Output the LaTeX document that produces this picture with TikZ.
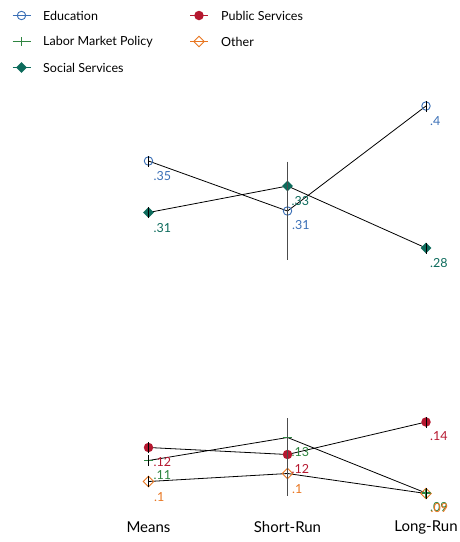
\documentclass[tikz,border=0pt]{standalone}
\usepackage{fontspec}
\setmainfont{Lato}
\usetikzlibrary{shapes.geometric}
\definecolor{cedu}{HTML}{3A6FB6}
\definecolor{clab}{HTML}{2E8540}
\definecolor{csoc}{HTML}{0D6B5C}
\definecolor{cpub}{HTML}{B5172F}
\definecolor{coth}{HTML}{E8751F}
\begin{document}
\begin{tikzpicture}[x=1pt,y=-1pt,
  conn/.style={black, line width=0.8pt},
  spike/.style={black, line width=0.8pt},
  longspike/.style={black!70, line width=0.9pt},
  edumk/.style={circle, draw=cedu, line width=0.9pt, minimum size=8.5pt, inner sep=0pt},
  socmk/.style={diamond, fill=csoc, minimum size=11pt, inner sep=0pt},
  pubmk/.style={circle, fill=cpub, minimum size=9.5pt, inner sep=0pt},
  othmk/.style={diamond, draw=coth, line width=0.9pt, minimum size=11pt, inner sep=0pt},
  labmk/.style={minimum size=9pt, inner sep=0pt,
    path picture={\draw[clab, line width=1.1pt]
      (path picture bounding box.west) -- (path picture bounding box.east)
      (path picture bounding box.north) -- (path picture bounding box.south);}},
  vlab/.style={anchor=west, inner sep=0pt, font=\fontsize{12.5}{14}\selectfont},
  legtxt/.style={anchor=west, inner sep=0pt, font=\fontsize{12.5}{14}\selectfont},
  axlab/.style={inner sep=0pt, font=\fontsize{15}{17}\selectfont},
]
\useasboundingbox (0,0) rectangle (460,542);

% ---------- legend ----------
\coordinate (lgA) at (21.5,15.5);
\coordinate (lgB) at (21.5,41.5);
\coordinate (lgC) at (21.5,67.5);
\coordinate (lgD) at (199,15.5);
\coordinate (lgE) at (199,41.5);
\draw[cedu, line width=0.9pt] ([xshift=-9pt]lgA) -- ([xshift=9pt]lgA);
\draw[clab, line width=0.9pt] ([xshift=-9pt]lgB) -- ([xshift=9pt]lgB);
\draw[csoc, line width=0.9pt] ([xshift=-9pt]lgC) -- ([xshift=9pt]lgC);
\draw[cpub, line width=0.9pt] ([xshift=-9pt]lgD) -- ([xshift=9pt]lgD);
\draw[coth, line width=0.9pt] ([xshift=-9pt]lgE) -- ([xshift=9pt]lgE);
\node[edumk] (lgAm) at (lgA) {};
\node[labmk] (lgBm) at (lgB) {};
\node[socmk] (lgCm) at (lgC) {};
\node[pubmk] (lgDm) at (lgD) {};
\node[othmk] (lgEm) at (lgE) {};
\node[legtxt] (ltA) at (43,15.5) {Education};
\node[legtxt] (ltB) at (43,41.5) {Labor Market Policy};
\node[legtxt] (ltC) at (43,67.5) {Social Services};
\node[legtxt] (ltD) at (221,15.5) {Public Services};
\node[legtxt] (ltE) at (221,41.5) {Other};

% ---------- points ----------
\coordinate (eduM) at (148.5,161);
\coordinate (eduS) at (287.5,211);
\coordinate (eduL) at (426,106);
\coordinate (socM) at (148.5,212.5);
\coordinate (socS) at (287.5,186);
\coordinate (socL) at (426,248);
\coordinate (pubM) at (148.5,447.5);
\coordinate (pubS) at (287.5,454.5);
\coordinate (pubL) at (426,422);
\coordinate (labM) at (148.5,460.5);
\coordinate (labS) at (287.5,437.5);
\coordinate (labL) at (426,493);
\coordinate (othM) at (148.5,481.5);
\coordinate (othS) at (287.5,473.5);
\coordinate (othL) at (426,493.5);

% ---------- connectors ----------
\draw[conn] (eduM) -- (eduS) -- (eduL);
\draw[conn] (socM) -- (socS) -- (socL);
\draw[conn] (pubM) -- (pubS) -- (pubL);
\draw[conn] (labM) -- (labS) -- (labL);
\draw[conn] (othM) -- (othS) -- (othL);

% ---------- markers ----------
\node[edumk] (eduMm) at (eduM) {};
\node[edumk] (eduSm) at (eduS) {};
\node[edumk] (eduLm) at (eduL) {};
\node[socmk] (socMm) at (socM) {};
\node[socmk] (socSm) at (socS) {};
\node[socmk] (socLm) at (socL) {};
\node[pubmk] (pubMm) at (pubM) {};
\node[pubmk] (pubSm) at (pubS) {};
\node[pubmk] (pubLm) at (pubL) {};
\node[othmk] (othMm) at (othM) {};
\node[othmk] (othSm) at (othS) {};
\node[othmk] (othLm) at (othL) {};
\node[labmk] (labMm) at (labM) {};
\node[labmk] (labSm) at (labS) {};
\node[labmk] (labLm) at (labL) {};

% ---------- spikes ----------
\foreach \p in {eduM,eduL,socM,socL,pubM,pubL,labM,labL,othM,othL}{
  \draw[spike] ([yshift=-5.5pt]\p) -- ([yshift=5.5pt]\p);
}
\coordinate (topA) at (287.5,161.5);
\coordinate (topB) at (287.5,260);
\coordinate (botA) at (287.5,418);
\coordinate (botB) at (287.5,496);
\draw[longspike] (topA) -- (topB);
\draw[longspike] (botA) -- (botB);

% ---------- value labels ----------
\node[vlab, text=cedu] (v1) at (153.5,176) {.35};
\node[vlab, text=csoc] (v2) at (153.5,228) {.31};
\node[vlab, text=csoc] (v3) at (291.5,201) {.33};
\node[vlab, text=cedu] (v4) at (292,225.5) {.31};
\node[vlab, text=cedu] (v5) at (430,121) {.4};
\node[vlab, text=csoc] (v6) at (430,263) {.28};
\node[vlab, text=cpub] (v7) at (153.5,462) {.12};
\node[vlab, text=clab] (v8) at (153.5,475.5) {.11};
\node[vlab, text=coth] (v9) at (154,497.5) {.1};
\node[vlab, text=clab] (v10) at (291.5,452.5) {.13};
\node[vlab, text=cpub] (v11) at (291.5,469.5) {.12};
\node[vlab, text=coth] (v12) at (292,489) {.1};
\node[vlab, text=cpub] (v13) at (430,436.5) {.14};
\node[vlab, text=clab] (v14) at (430,507.5) {.09};
\node[vlab, text=coth] (v15) at (430.5,508.5) {.09};

% ---------- axis labels ----------
\node[axlab] (ax1) at (148.5,527) {Means};
\node[axlab] (ax2) at (287.5,527) {Short-Run};
\node[axlab] (ax3) at (426,527) {Long-Run};
\end{tikzpicture}
\end{document}
